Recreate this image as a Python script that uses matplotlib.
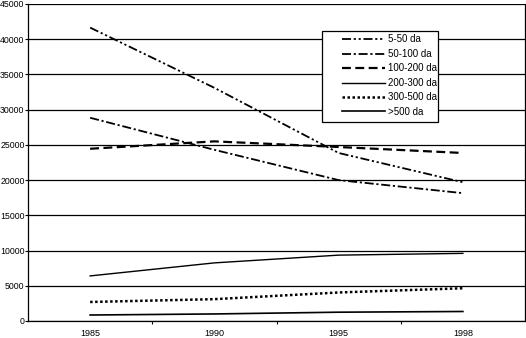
import numpy as np
import matplotlib
matplotlib.use("Agg")
import matplotlib.pyplot as plt
from matplotlib.ticker import FixedLocator
from matplotlib.patches import Rectangle

plt.rcParams['font.family'] = ['Liberation Sans', 'DejaVu Sans']

# data
years = ['1985', '1990', '1995', '1998']
s_5_50 = [41650, 33100, 23850, 19700]
s_50_100 = [28850, 24300, 20000, 18150]
s_100_200 = [24450, 25500, 24700, 23850]
s_200_300 = [6400, 8250, 9350, 9600]
s_300_500 = [2700, 3100, 4050, 4650]
s_500 = [850, 1000, 1250, 1350]
labels = ['5-50 da', '50-100 da', '100-200 da', '200-300 da', '300-500 da', '>500 da']

W, H = 526, 338
x0, x1, y0, y1 = 28, 525, 321, 4   # plot area in pixels
fig = plt.figure(figsize=(W/100, H/100), dpi=100, facecolor='w')
ax = fig.add_axes([x0/W, (H-y0)/H, (x1-x0)/W, (y0-y1)/H])

def ax_xy(px, py):
    # pixel -> axes fraction
    return (px - x0)/(x1 - x0), (y0 - py)/(y0 - y1)

x = np.arange(len(years))
ax.plot(x, s_5_50, color='k', lw=1.3, ls=(0, (5, 1.5, 1.2, 1.5, 1.2, 1.5)), label=labels[0])
ax.plot(x, s_50_100, color='k', lw=1.3, ls=(0, (5, 1.5, 1.2, 1.5)), label=labels[1])
ax.plot(x, s_100_200, color='k', lw=1.6, ls=(0, (4, 2)), label=labels[2])
ax.plot(x, s_200_300, color='k', lw=1.0, ls='-', label=labels[3])
ax.plot(x, s_300_500, color='k', lw=1.8, ls=(0, (1, 1)), label=labels[4])
ax.plot(x, s_500, color='k', lw=1.2, ls='-', label=labels[5])

ax.set_xlim(-0.5, len(years) - 0.5)
ax.set_ylim(0, 45000)
ax.set_yticks(np.arange(0, 45001, 5000))
ax.yaxis.grid(True, color='k', lw=0.9)
ax.set_axisbelow(True)

ax.set_xticks(x)
ax.set_xticklabels(years)
ax.tick_params(axis='x', which='major', length=0, pad=5.5, labelsize=6.5)
ax.xaxis.set_minor_locator(FixedLocator(np.arange(0.5, len(years) - 1, 1.0)))
ax.tick_params(axis='x', which='minor', length=2.5, direction='out', width=0.8)
ax.tick_params(axis='y', length=2, width=0.8, pad=0.5, labelsize=6.3)

ax.spines['top'].set_visible(False)
for side in ['left', 'bottom', 'right']:
    ax.spines[side].set_linewidth(0.9)

# legend box
bx0, by0 = ax_xy(322, 122)
bx1, by1 = ax_xy(438, 31)
ax.add_patch(Rectangle((bx0, by0), bx1 - bx0, by1 - by0, transform=ax.transAxes,
                       facecolor='w', edgecolor='k', lw=0.9, zorder=3))
lx, ly = ax_xy(342, 34.5)
leg = ax.legend(loc='upper left', bbox_to_anchor=(lx, ly), fontsize=7,
                frameon=False, handlelength=4.4, handletextpad=0.3, labelspacing=0.46,
                borderpad=0, borderaxespad=0)
leg.set_zorder(4)

plt.savefig('out.png', dpi=100, facecolor='w')
